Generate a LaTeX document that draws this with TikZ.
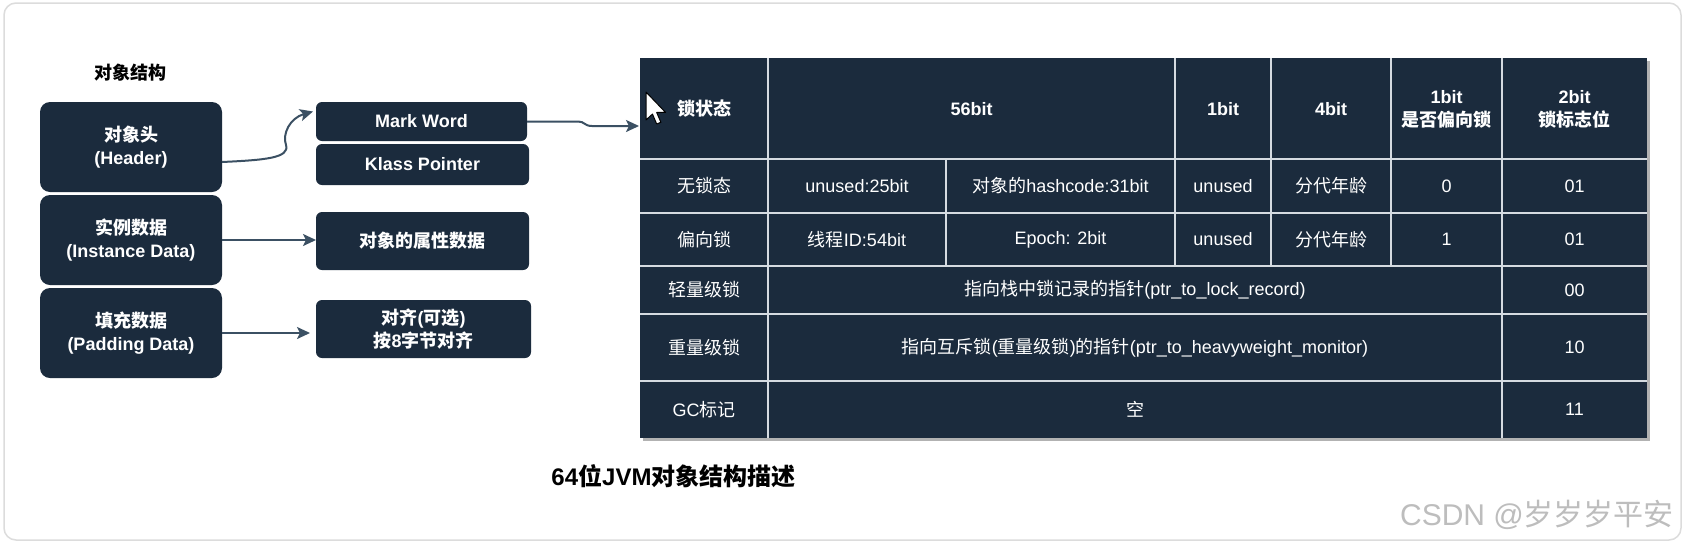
\documentclass[tikz,border=0pt]{standalone}
\usepackage{fontspec}
\setmainfont{Liberation Sans}
\newfontfamily\cjk{Noto Sans CJK SC}
\usetikzlibrary{arrows.meta,shadows}
\newcommand{\zh}[1]{{\cjk #1}}
\definecolor{navy}{HTML}{1B2B3D}
\definecolor{arrowc}{HTML}{3B5063}
\definecolor{gridc}{HTML}{D5DBE1}
\definecolor{framec}{HTML}{DCDCDC}
\definecolor{wm}{HTML}{BDBDBD}
\begin{document}
\begin{tikzpicture}[x=1pt,y=-1pt,
  every node/.style={inner sep=0pt, outer sep=0pt},
  lbox/.style={fill=navy, rounded corners=10pt, text=white, font=\bfseries\fontsize{18}{23}\selectfont, align=center, minimum width=182pt, minimum height=90pt},
  rbox/.style={fill=navy, rounded corners=6pt, text=white, font=\bfseries\fontsize{18}{23}\selectfont, align=center},
  hcell/.style={text=white, font=\bfseries\fontsize{18}{23}\selectfont, align=center},
  cell/.style={text=white, font=\fontsize{18}{22}\selectfont, align=center},
  conn/.style={draw=arrowc, line width=2pt, -{Stealth[length=13pt,width=12pt,inset=3pt]}},
  gridline/.style={draw=gridc, line width=2pt},
]
\useasboundingbox (0,0) rectangle (1683,544);
\fill[white] (0,0) rectangle (1683,544);
\draw[framec, line width=1.5pt, fill=white, rounded corners=12pt] (4,3) rectangle (1681,540);

% left structure
\node[font=\bfseries\fontsize{18}{22}\selectfont] (ttl) at (130,73) {\zh{对象结构}};
\node[lbox] (hdr) at (131,147) {\zh{对象头}\\(Header)};
\node[lbox] (inst) at (131,240) {\zh{实例数据}\\(Instance Data)};
\node[lbox] (pad) at (131,333) {\zh{填充数据}\\(Padding Data)};

\node[rbox, minimum width=211pt, minimum height=39pt] (mw) at (421.5,121.5) {Mark Word};
\node[rbox, minimum width=213pt, minimum height=41pt] (kp) at (422.5,164.5) {Klass Pointer};
\node[rbox, minimum width=213pt, minimum height=58pt] (attr) at (422.5,241) {\zh{对象的属性数据}};
\node[rbox, minimum width=215pt, minimum height=58pt] (alg) at (423.5,329) {\zh{对齐}(\zh{可选})\\\zh{按}8\zh{字节对齐}};

% table
\node[fill=navy, minimum width=1007pt, minimum height=380pt,
      drop shadow={shadow xshift=3pt, shadow yshift=-3pt, opacity=0.3, fill=black}] (tbl) at (1143.5,248) {};
\coordinate (tin) at (639,126);

\draw[gridline] (768,58) -- (768,438);
\draw[gridline] (1502,58) -- (1502,438);
\draw[gridline] (946,159) -- (946,266);
\draw[gridline] (1175,58) -- (1175,266);
\draw[gridline] (1271,58) -- (1271,266);
\draw[gridline] (1391,58) -- (1391,266);
\foreach \yy in {159,213,266,314,381} \draw[gridline] (640,\yy) -- (1647,\yy);

% header row
\node[hcell] (h0) at (704,109) {\zh{锁状态}};
\node[hcell] (h1) at (971.5,109) {56bit};
\node[hcell] (h2) at (1223,109) {1bit};
\node[hcell] (h3) at (1331,109) {4bit};
\node[hcell] (h4) at (1446.5,109) {1bit\\\zh{是否偏向锁}};
\node[hcell] (h5) at (1574.5,109) {2bit\\\zh{锁标志位}};

% row 2
\node[cell] (a0) at (704,186) {\zh{无锁态}};
\node[cell] (a1) at (857,186) {unused:25bit};
\node[cell] (a2) at (1060.5,186) {\zh{对象的}hashcode:31bit};
\node[cell] (a3) at (1223,186) {unused};
\node[cell] (a4) at (1331,186) {\zh{分代年龄}};
\node[cell] (a5) at (1446.5,186) {0};
\node[cell] (a6) at (1574.5,186) {01};

% row 3
\node[cell] (b0) at (704,239.5) {\zh{偏向锁}};
\node[cell] (b1) at (857,239.5) {\zh{线程}ID:54bit};
\node[cell] (b2) at (1060.5,239.5) {Epoch: 2bit};
\node[cell] (b3) at (1223,239.5) {unused};
\node[cell] (b4) at (1331,239.5) {\zh{分代年龄}};
\node[cell] (b5) at (1446.5,239.5) {1};
\node[cell] (b6) at (1574.5,239.5) {01};

% row 4
\node[cell] (c0) at (704,290) {\zh{轻量级锁}};
\node[cell] (c1) at (1135,290) {\zh{指向栈中锁记录的指针}(ptr\_to\_lock\_record)};
\node[cell] (c2) at (1574.5,290) {00};

% row 5
\node[cell] (d0) at (704,347.5) {\zh{重量级锁}};
\node[cell] (d1) at (1135,347.5) {\zh{指向互斥锁}(\zh{重量级锁})\zh{的指针}(ptr\_to\_heavyweight\_monitor)};
\node[cell] (d2) at (1574.5,347.5) {10};

% row 6
\node[cell] (e0) at (704,409.5) {GC\zh{标记}};
\node[cell] (e1) at (1135,409.5) {\zh{空}};
\node[cell] (e2) at (1574.5,409.5) {11};

% cursor
\begin{scope}[shift={(646,92)}, scale=1.75]
\draw[black, line width=1pt, fill=white, line join=round]
  (0,0) -- (0,16) -- (3.7,12.6) -- (6.1,18.3) -- (8.5,17.3) -- (6.1,11.7) -- (11.2,11.7) -- cycle;
\end{scope}

% connectors
\draw[conn] ([yshift=-15pt]hdr.east) .. controls (265,160) and (290,158) .. (286,145)
   .. controls (282,134) and (290,118) .. ([xshift=-3pt,yshift=10pt]mw.west);
\draw[conn] (inst.east) -- (inst.east -| attr.west);
\draw[conn, shorten >=6pt] (pad.east) -- (pad.east -| alg.west);
\draw[conn] (mw.east) -- (578,121.5) .. controls (585,121.5) and (584,126) .. (592,126) -- (tin);

% captions
\node[font=\bfseries\fontsize{24}{28}\selectfont] (cap) at (673.5,476) {64\zh{位}JVM\zh{对象结构描述}};
\node[text=wm, font=\fontsize{30}{34}\selectfont] (wmk) at (1537,515) {CSDN @\zh{岁岁岁平安}};
\end{tikzpicture}
\end{document}
